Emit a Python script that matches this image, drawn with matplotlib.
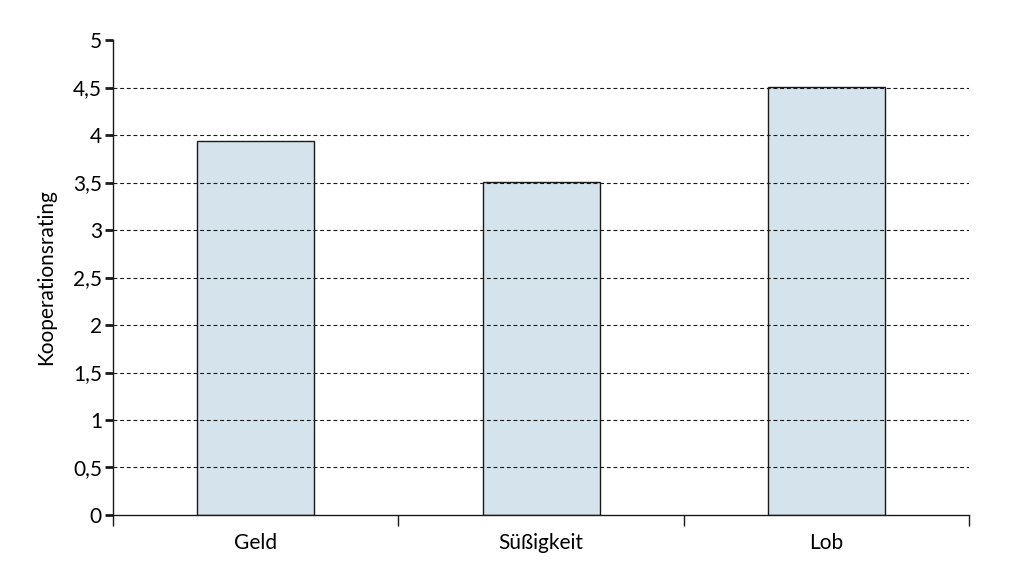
import numpy as np
import matplotlib.pyplot as plt
from matplotlib.ticker import FixedLocator

# Data
categories = ['Geld', 'Süßigkeit', 'Lob']
values = [3.94, 3.51, 4.51]
yticks = [0, 0.5, 1, 1.5, 2, 2.5, 3, 3.5, 4, 4.5, 5]

plt.rcParams['font.family'] = ['Lato', 'DejaVu Sans']

fig = plt.figure(figsize=(10.24, 5.64), dpi=100)
ax = fig.add_axes([0.1104, 0.0869, 0.8359, 0.8421])

x = np.arange(len(categories))
ax.bar(x, values, width=0.41, color='#d5e4ec', edgecolor='#1a1a1a', linewidth=1.0, zorder=2)

# dashed grid lines drawn on top of the bars
for yv in yticks[1:-1]:
    ax.axhline(yv, color='#1a1a1a', linestyle=(0, (3.5, 2.5)), linewidth=0.8, zorder=3)

ax.set_xlim(-0.5, len(categories) - 0.5)
ax.set_ylim(0, 5)

ax.set_yticks(yticks)
ax.set_yticklabels([('%g' % t).replace('.', ',') for t in yticks], fontsize=15)
ax.set_xticks(x)
ax.set_xticklabels(categories, fontsize=15)
ax.tick_params(axis='x', which='major', length=0, pad=13)
ax.xaxis.set_minor_locator(FixedLocator(np.arange(-0.5, len(categories), 1)))
ax.tick_params(axis='x', which='minor', length=8, width=1, color='#1a1a1a')
ax.tick_params(axis='y', length=6, width=2, color='#1a1a1a', pad=2)

for side in ['top', 'right']:
    ax.spines[side].set_visible(False)
for side in ['left', 'bottom']:
    ax.spines[side].set_linewidth(1.0)
    ax.spines[side].set_color('#1a1a1a')
ax.spines['bottom'].set_zorder(4)

ax.set_ylabel('Kooperationsrating', fontsize=15, labelpad=12)

fig.savefig('out.png', dpi=100)
